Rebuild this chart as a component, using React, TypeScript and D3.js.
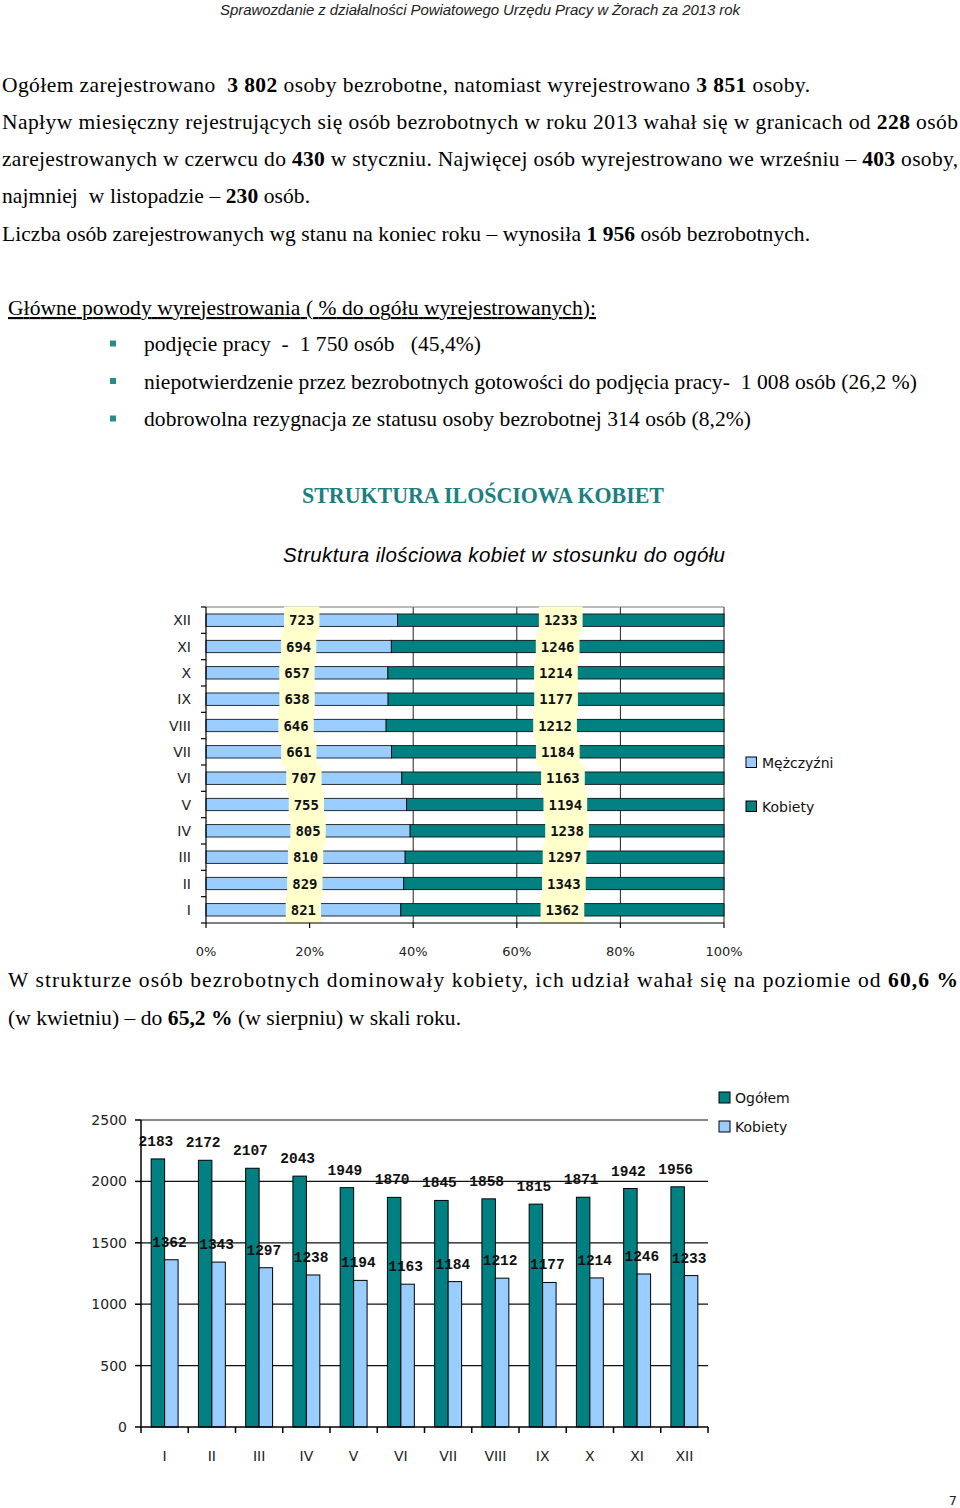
import React from "react";
import * as d3 from "d3";

// ---------- DATA ----------
const months = ["I", "II", "III", "IV", "V", "VI", "VII", "VIII", "IX", "X", "XI", "XII"];
const ogolem = [2183, 2172, 2107, 2043, 1949, 1870, 1845, 1858, 1815, 1871, 1942, 1956];
const kobiety = [1362, 1343, 1297, 1238, 1194, 1163, 1184, 1212, 1177, 1214, 1246, 1233];
const mezczyzni = [821, 829, 810, 805, 755, 707, 661, 646, 638, 657, 694, 723];
const pctTicks = [0, 0.2, 0.4, 0.6, 0.8, 1];
const countTicks = [0, 500, 1000, 1500, 2000, 2500];

const TEAL = "#008080";
const BLUE = "#99CCFF";
const LABEL_BG = "#FFFFCC";
const SERIF = "'Liberation Serif', 'Times New Roman', serif";
const SANS = "'DejaVu Sans', Verdana, sans-serif";

type Seg = { t: string; b?: boolean };

function TLine({ x, y, w, segs, size = 21.5, family = SERIF, ...rest }: any) {
  return (
    <text
      x={x}
      y={y}
      fontFamily={family}
      fontSize={size}
      fill="#000"
      textLength={w}
      lengthAdjust={w ? "spacing" : undefined}
      style={{ whiteSpace: "pre" }}
      {...rest}
    >
      {(segs as Seg[]).map((s, i) => (
        <tspan key={i} fontWeight={s.b ? "bold" : "normal"}>
          {s.t}
        </tspan>
      ))}
    </text>
  );
}

function Chart1() {
  const x = d3.scaleLinear().domain([0, 1]).range([206, 724]);
  const y = d3
    .scaleBand<string>()
    .domain([...months].reverse())
    .range([607, 923])
    .paddingInner(0.53)
    .paddingOuter(0.265);
  const step = y.step();
  const [y0, yEnd] = y.range();
  const bounds = d3.range(13).map((k) => y0 + k * step);
  const fs = 14;
  const cw = fs * 0.602;
  return (
    <g>
      {/* gridlines */}
      {pctTicks.slice(1).map((t) => (
        <line key={t} x1={x(t)} x2={x(t)} y1={y0} y2={yEnd} stroke="#222" strokeWidth={1} />
      ))}
      <line x1={x(0)} x2={x(1)} y1={y0} y2={y0} stroke="#777" strokeWidth={1.2} />
      {/* bars */}
      {months.map((m, i) => {
        const tot = mezczyzni[i] + kobiety[i];
        const pm = mezczyzni[i] / tot;
        const by = y(m)!;
        const bh = y.bandwidth();
        return (
          <g key={m}>
            <rect x={x(0)} y={by} width={x(pm) - x(0)} height={bh} fill={BLUE} stroke="#000" strokeWidth={0.8} />
            <rect x={x(pm)} y={by} width={x(1) - x(pm)} height={bh} fill={TEAL} stroke="#000" strokeWidth={0.8} />
          </g>
        );
      })}
      {/* labels */}
      {months.map((m, i) => {
        const tot = mezczyzni[i] + kobiety[i];
        const pm = mezczyzni[i] / tot;
        const cy = y(m)! + y.bandwidth() / 2;
        const items = [
          { v: mezczyzni[i], cx: x(pm / 2) },
          { v: kobiety[i], cx: x((pm + 1) / 2) },
        ];
        return (
          <g key={m}>
            {items.map((it, j) => {
              const s = String(it.v);
              const w = s.length * cw + 10;
              return (
                <g key={j}>
                  <rect x={it.cx - w / 2} y={cy - step / 2 - 0.5} width={w} height={step + 1} fill={LABEL_BG} />
                  <text
                    x={it.cx}
                    y={cy + 5}
                    textAnchor="middle"
                    fontFamily="'DejaVu Sans Mono', monospace"
                    fontWeight="bold"
                    fontSize={fs}
                    fill="#111"
                  >
                    {s}
                  </text>
                </g>
              );
            })}
          </g>
        );
      })}
      {/* axes */}
      <line x1={x(0)} x2={x(0)} y1={y0} y2={yEnd} stroke="#000" strokeWidth={1.2} />
      <line x1={x(0)} x2={x(1)} y1={yEnd} y2={yEnd} stroke="#000" strokeWidth={1.2} />
      {bounds.map((b, k) => (
        <line key={k} x1={x(0) - 5} x2={x(0)} y1={b} y2={b} stroke="#000" strokeWidth={1.2} />
      ))}
      {pctTicks.map((t) => (
        <g key={t}>
          <line x1={x(t)} x2={x(t)} y1={yEnd} y2={yEnd + 5} stroke="#000" strokeWidth={1.2} />
          <text x={x(t)} y={956} textAnchor="middle" fontFamily={SANS} fontSize={13} fill="#222">
            {Math.round(t * 100) + "%"}
          </text>
        </g>
      ))}
      {months.map((m) => (
        <text
          key={m}
          x={191}
          y={y(m)! + y.bandwidth() / 2 + 5}
          textAnchor="end"
          fontFamily={SANS}
          fontSize={14}
          fill="#222"
        >
          {m}
        </text>
      ))}
      {/* legend */}
      <rect x={746} y={757} width={10.5} height={10.5} fill={BLUE} stroke="#000" strokeWidth={1} />
      <text x={762} y={767.5} fontFamily={SANS} fontSize={14} fill="#111">Mężczyźni</text>
      <rect x={746} y={801} width={10.5} height={10.5} fill={TEAL} stroke="#000" strokeWidth={1} />
      <text x={762} y={811.5} fontFamily={SANS} fontSize={14} fill="#111">Kobiety</text>
    </g>
  );
}

function Chart2() {
  const x = d3.scaleBand<string>().domain(months).range([141, 708]).paddingInner(0.43).paddingOuter(0.215);
  const xs = d3.scaleBand<string>().domain(["o", "k"]).range([0, x.bandwidth()]);
  const y = d3.scaleLinear().domain([0, 2500]).range([1427, 1120]);
  const [xa, xb] = x.range();
  const step = x.step();
  const bounds = d3.range(13).map((k) => xa + k * step);
  const lf = "'Liberation Mono', 'Courier New', monospace";
  return (
    <g>
      {countTicks.slice(1).map((t) => (
        <line key={t} x1={xa} x2={xb} y1={y(t)} y2={y(t)} stroke="#111" strokeWidth={1.2} />
      ))}
      {months.map((m, i) => {
        const bx = x(m)!;
        return (
          <g key={m}>
            <rect x={bx + xs("o")!} y={y(ogolem[i])} width={xs.bandwidth()} height={y(0) - y(ogolem[i])} fill={TEAL} stroke="#000" strokeWidth={1} />
            <rect x={bx + xs("k")!} y={y(kobiety[i])} width={xs.bandwidth()} height={y(0) - y(kobiety[i])} fill={BLUE} stroke="#000" strokeWidth={1} />
          </g>
        );
      })}
      {months.map((m, i) => {
        const bx = x(m)!;
        const co = bx + xs("o")! + xs.bandwidth() / 2 - 2;
        const ck = bx + xs("k")! + xs.bandwidth() / 2 - 2;
        return (
          <g key={m}>
            <text x={co} y={y(ogolem[i]) - 13} textAnchor="middle" fontFamily={lf} fontWeight="bold" fontSize={14.5} fill="#111">
              {ogolem[i]}
            </text>
            <text x={ck} y={y(kobiety[i]) - 13} textAnchor="middle" fontFamily={lf} fontWeight="bold" fontSize={14.5} fill="#111">
              {kobiety[i]}
            </text>
          </g>
        );
      })}
      {/* axes */}
      <line x1={xa} x2={xa} y1={y(2500)} y2={y(0)} stroke="#000" strokeWidth={1.5} />
      <line x1={xa} x2={xb} y1={y(0)} y2={y(0)} stroke="#000" strokeWidth={1.5} />
      {countTicks.map((t) => (
        <g key={t}>
          <line x1={xa - 6} x2={xa} y1={y(t)} y2={y(t)} stroke="#000" strokeWidth={1.5} />
          <text x={127} y={y(t) + 5} textAnchor="end" fontFamily={SANS} fontSize={14} fill="#222">
            {t}
          </text>
        </g>
      ))}
      {bounds.map((b, k) => (
        <line key={k} x1={b} x2={b} y1={y(0)} y2={y(0) + 6} stroke="#000" strokeWidth={1.5} />
      ))}
      {months.map((m) => (
        <text key={m} x={x(m)! + x.bandwidth() / 2} y={1461} textAnchor="middle" fontFamily={SANS} fontSize={14} fill="#222">
          {m}
        </text>
      ))}
      {/* legend */}
      <rect x={719} y={1092} width={11} height={11} fill={TEAL} stroke="#000" strokeWidth={1} />
      <text x={735} y={1102.5} fontFamily={SANS} fontSize={14} fill="#111">Ogółem</text>
      <rect x={719} y={1121} width={11} height={11} fill={BLUE} stroke="#000" strokeWidth={1} />
      <text x={735} y={1131.5} fontFamily={SANS} fontSize={14} fill="#111">Kobiety</text>
    </g>
  );
}

export default function App() {
  return (
    <svg
      width={960}
      height={1508}
      viewBox="0 0 960 1508"
      style={{ position: "absolute", left: 0, top: 0, background: "#fff" }}
    >
      <rect x={0} y={0} width={960} height={1508} fill="#fff" />
      {/* header */}
      <TLine
        x={220}
        y={15}
        w={520}
        size={15}
        family="'Liberation Sans Narrow', 'Liberation Sans', Arial, sans-serif"
        fontStyle="italic"
        fill="#222"
        segs={[{ t: "Sprawozdanie z działalności Powiatowego Urzędu Pracy w Żorach za 2013 rok" }]}
      />
      {/* paragraph */}
      <TLine x={2} y={92} w={808} segs={[
        { t: "Ogółem zarejestrowano  " }, { t: "3 802", b: true },
        { t: " osoby bezrobotne, natomiast wyrejestrowano " }, { t: "3 851", b: true }, { t: " osoby." },
      ]} />
      <TLine x={2} y={129} w={956} segs={[
        { t: "Napływ miesięczny rejestrujących się osób bezrobotnych w roku 2013 wahał się w granicach od " },
        { t: "228", b: true }, { t: " osób" },
      ]} />
      <TLine x={2} y={166} w={956} segs={[
        { t: "zarejestrowanych w czerwcu do " }, { t: "430", b: true },
        { t: " w styczniu. Najwięcej osób wyrejestrowano we wrześniu – " }, { t: "403", b: true }, { t: " osoby," },
      ]} />
      <TLine x={2} y={203} w={308} segs={[
        { t: "najmniej  w listopadzie – " }, { t: "230", b: true }, { t: " osób." },
      ]} />
      <TLine x={2} y={241} w={808} segs={[
        { t: "Liczba osób zarejestrowanych wg stanu na koniec roku – wynosiła " }, { t: "1 956", b: true },
        { t: " osób bezrobotnych." },
      ]} />
      {/* reasons */}
      <TLine x={8} y={315} w={588} textDecoration="underline" segs={[
        { t: "Główne powody wyrejestrowania ( % do ogółu wyrejestrowanych):" },
      ]} />
      {[344, 381.5, 419].map((cy) => (
        <rect key={cy} x={110} y={cy - 3.5} width={6} height={6} fill="#2a8a8a" />
      ))}
      <TLine x={144} y={351} w={337} segs={[{ t: "podjęcie pracy  -  1 750 osób   (45,4%)" }]} />
      <TLine x={144} y={388.5} w={773} segs={[
        { t: "niepotwierdzenie przez bezrobotnych gotowości do podjęcia pracy-  1 008 osób (26,2 %)" },
      ]} />
      <TLine x={144} y={426} w={607} segs={[
        { t: "dobrowolna rezygnacja ze statusu osoby bezrobotnej 314 osób (8,2%)" },
      ]} />
      {/* titles */}
      <text x={302} y={503} fontFamily={SERIF} fontWeight="bold" fontSize={22.5} fill="#1b8080" textLength={362} lengthAdjust="spacingAndGlyphs">
        STRUKTURA ILOŚCIOWA KOBIET
      </text>
      <text x={283} y={562} fontFamily="'Liberation Sans', Arial, sans-serif" fontStyle="italic" fontSize={20.5} fill="#000" textLength={442} lengthAdjust="spacing">
        Struktura ilościowa kobiet w stosunku do ogółu
      </text>
      <Chart1 />
      {/* paragraph after chart 1 */}
      <TLine x={8} y={987} w={950} segs={[
        { t: "W strukturze osób bezrobotnych dominowały kobiety, ich udział wahał się na poziomie od " },
        { t: "60,6 %", b: true },
      ]} />
      <TLine x={8} y={1025} w={453} segs={[
        { t: "(w kwietniu) – do " }, { t: "65,2 %", b: true }, { t: " (w sierpniu) w skali roku." },
      ]} />
      <Chart2 />
      <text x={957} y={1505} textAnchor="end" fontFamily={SANS} fontSize={13} fill="#222">7</text>
    </svg>
  );
}
